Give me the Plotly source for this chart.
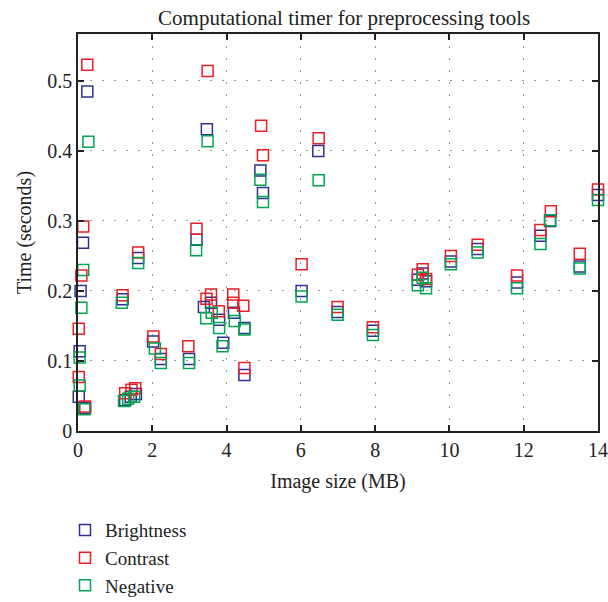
import plotly.graph_objects as go

# Brightness
bright_x = [0.25, 3.47, 0.135, 0.07, 0.045, 0.02, 0.19, 1.2, 1.62, 2.02, 2.23, 2.99, 1.27, 1.42, 1.56,
            3.19, 3.39, 3.58, 3.8, 3.91, 4.2, 4.48, 4.48, 4.91, 4.98, 6.47, 6.02, 6.99, 7.94,
            9.15, 9.28, 9.37, 10.04, 10.76, 11.82, 12.45, 12.71, 13.51, 14.0]
bright_y = [0.485, 0.431, 0.269, 0.2, 0.114, 0.049, 0.033, 0.188, 0.247, 0.128, 0.103, 0.103, 0.044, 0.049, 0.053,
            0.273, 0.177, 0.183, 0.159, 0.126, 0.169, 0.147, 0.08, 0.372, 0.34, 0.4, 0.2, 0.17, 0.143,
            0.216, 0.225, 0.214, 0.242, 0.26, 0.212, 0.279, 0.3, 0.235, 0.337]

# Contrast
contrast_x = [0.25, 3.49, 0.14, 0.09, 0.02, 0.02, 0.19, 1.2, 1.62, 2.03, 2.23, 2.97, 1.27, 1.44, 1.54,
              3.19, 3.46, 3.58, 3.79, 4.18, 4.18, 4.45, 4.48, 4.93, 4.98, 6.48, 6.02, 6.99, 7.94,
              9.15, 9.28, 9.37, 10.04, 10.76, 11.82, 12.45, 12.73, 13.51, 14.0]
contrast_y = [0.523, 0.514, 0.292, 0.222, 0.146, 0.077, 0.035, 0.194, 0.255, 0.135, 0.11, 0.121, 0.054, 0.059, 0.061,
              0.289, 0.189, 0.195, 0.171, 0.195, 0.183, 0.179, 0.09, 0.436, 0.394, 0.418, 0.238, 0.177, 0.148,
              0.223, 0.231, 0.217, 0.25, 0.266, 0.222, 0.287, 0.314, 0.253, 0.345]

# Negative
negative_x = [0.28, 3.49, 0.14, 0.09, 0.045, 0.045, 0.17, 1.18, 1.62, 2.07, 2.23, 2.99, 1.24, 1.35, 1.51,
              3.18, 3.45, 3.6, 3.8, 3.89, 4.22, 4.48, 4.91, 4.98, 6.48, 6.02, 6.99, 7.94,
              9.15, 9.28, 9.37, 10.04, 10.76, 11.82, 12.45, 12.71, 13.51, 14.0]
negative_y = [0.413, 0.414, 0.23, 0.176, 0.105, 0.065, 0.031, 0.183, 0.24, 0.118, 0.097, 0.097, 0.043, 0.046, 0.049,
              0.258, 0.161, 0.169, 0.147, 0.121, 0.157, 0.145, 0.359, 0.327, 0.358, 0.192, 0.166, 0.137,
              0.208, 0.219, 0.204, 0.238, 0.255, 0.204, 0.267, 0.301, 0.232, 0.33]

x_ticks = [0, 2, 4, 6, 8, 10, 12, 14]
y_ticks = [0, 0.1, 0.2, 0.3, 0.4, 0.5]
y_tick_labels = ["0", "0.1", "0.2", "0.3", "0.4", "0.5"]

FONT = "Liberation Serif"
FS = 20
series = [
    ("Brightness", bright_x, bright_y, "#2e3192"),
    ("Contrast", contrast_x, contrast_y, "#ee1c25"),
    ("Negative", negative_x, negative_y, "#00a651"),
]

fig = go.Figure()
for name, xs, ys, col in series:
    fig.add_trace(go.Scatter(
        x=xs, y=ys, mode="markers", name=name, cliponaxis=False,
        marker=dict(symbol="square-open", size=11, color=col, line=dict(width=1.5, color=col)),
    ))

axis_common = dict(
    showline=True, linecolor="#222", linewidth=1.5, mirror="ticks",
    ticks="inside", ticklen=6, tickcolor="#222", tickwidth=1.5,
    showgrid=True, gridcolor="#999", gridwidth=1, griddash="2px,10px",
    zeroline=False, tickfont=dict(family=FONT, size=FS, color="#222"),
    automargin=False,
)

fig.update_layout(
    width=608, height=602,
    paper_bgcolor="white", plot_bgcolor="white",
    margin=dict(l=78, r=10, t=34, b=171),
    title=dict(text="Computational timer for preprocessing tools", x=0.566, xanchor="center",
               y=0.9706, yanchor="middle", font=dict(family=FONT, size=21, color="#222")),
    xaxis=dict(range=[0, 14], tickvals=x_ticks,
               title=dict(text="Image size (MB)", font=dict(family=FONT, size=FS, color="#222"), standoff=14),
               **axis_common),
    yaxis=dict(range=[0, 0.567], tickvals=y_ticks, ticktext=y_tick_labels,
               title=dict(text="Time (seconds)", font=dict(family=FONT, size=FS, color="#222"), standoff=10),
               **axis_common),
    showlegend=True,
    legend=dict(x=-0.025, xanchor="left", y=0.151, yref="container", yanchor="top", orientation="v",
                font=dict(family=FONT, size=19, color="#222"), bgcolor="rgba(0,0,0,0)"),
)

# remove the default 8px page margin so the 608x602 figure fills the window exactly
fig.write_html("out.html", config={"displayModeBar": False},
               post_script="document.body.style.margin='0';document.body.style.overflow='hidden';")
